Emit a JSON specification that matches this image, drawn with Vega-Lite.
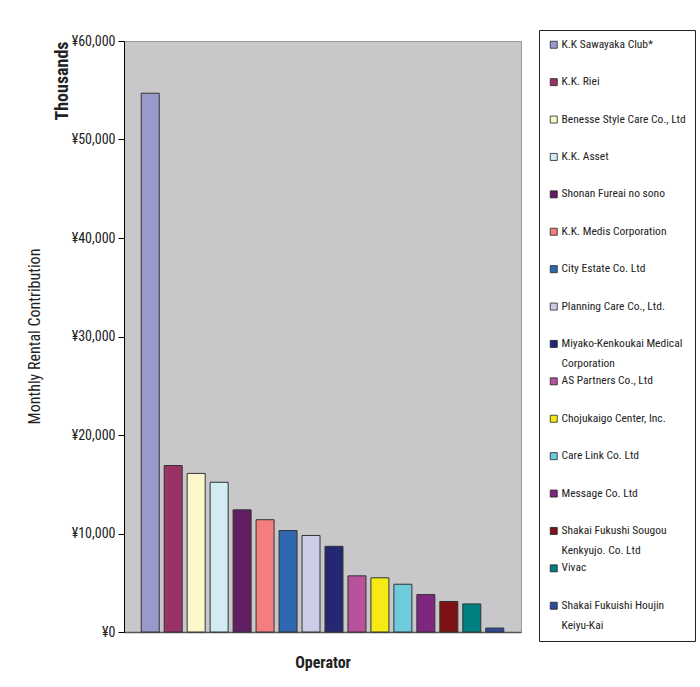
{
  "$schema": "https://vega.github.io/schema/vega-lite/v6.json",
  "width": 397,
  "height": 591,
  "autosize": {"type": "none"},
  "padding": {"left": 124, "top": 41, "right": 179, "bottom": 55},
  "background": "white",
  "title": {
    "text": "Monthly Rental Contribution",
    "orient": "left",
    "anchor": "middle",
    "font": "Roboto Condensed, Liberation Sans, sans-serif",
    "fontSize": 16,
    "fontWeight": "normal",
    "color": "#222222",
    "offset": 10
  },
  "data": {
    "values": [
      {"operator": "K.K Sawayaka Club*", "rent": 54700},
      {"operator": "K.K. Riei", "rent": 16900},
      {"operator": "Benesse Style Care Co., Ltd", "rent": 16100},
      {"operator": "K.K. Asset", "rent": 15200},
      {"operator": "Shonan Fureai no sono", "rent": 12400},
      {"operator": "K.K. Medis Corporation", "rent": 11400},
      {"operator": "City Estate Co. Ltd", "rent": 10300},
      {"operator": "Planning Care Co., Ltd.", "rent": 9800},
      {"operator": "Miyako-Kenkoukai Medical Corporation", "rent": 8700},
      {"operator": "AS Partners Co., Ltd", "rent": 5700},
      {"operator": "Chojukaigo Center, Inc.", "rent": 5500},
      {"operator": "Care Link Co. Ltd", "rent": 4850},
      {"operator": "Message Co. Ltd", "rent": 3800},
      {"operator": "Shakai Fukushi Sougou Kenkyujo. Co. Ltd", "rent": 3100},
      {"operator": "Vivac", "rent": 2850},
      {"operator": "Shakai Fukuishi Houjin Keiyu-Kai", "rent": 400}
    ]
  },
  "mark": {"type": "bar", "stroke": "#333333", "strokeWidth": 1},
  "encoding": {
    "x": {
      "field": "operator",
      "type": "nominal",
      "sort": null,
      "scale": {"paddingInner": 0.216, "paddingOuter": 0.75},
      "axis": {
        "labels": false,
        "ticks": false,
        "domainColor": "#555555",
        "domainWidth": 1.5,
        "title": "Operator",
        "titleFont": "Roboto Condensed, Liberation Sans, sans-serif",
        "titleFontSize": 16,
        "titleFontWeight": "bold",
        "titleColor": "#222222",
        "titlePadding": 22
      }
    },
    "y": {
      "field": "rent",
      "type": "quantitative",
      "scale": {"domain": [0, 60000], "nice": false},
      "axis": {
        "values": [0, 10000, 20000, 30000, 40000, 50000, 60000],
        "labelExpr": "'¥' + format(datum.value, ',')",
        "grid": false,
        "tickSize": 6,
        "tickColor": "#000000",
        "domainColor": "#000000",
        "labelFont": "Roboto Condensed, Liberation Sans, sans-serif",
        "labelFontSize": 14,
        "labelColor": "#222222",
        "labelPadding": 3,
        "title": "Thousands",
        "titleFont": "Roboto Condensed, Liberation Sans, sans-serif",
        "titleFontSize": 18,
        "titleFontWeight": "bold",
        "titleColor": "#222222",
        "titleAnchor": "end",
        "titleX": -62,
        "titleBaseline": "middle"
      }
    },
    "color": {
      "field": "operator",
      "type": "nominal",
      "sort": null,
      "scale": {
        "domain": [
          "K.K Sawayaka Club*", "K.K. Riei", "Benesse Style Care Co., Ltd", "K.K. Asset",
          "Shonan Fureai no sono", "K.K. Medis Corporation", "City Estate Co. Ltd", "Planning Care Co., Ltd.",
          "Miyako-Kenkoukai Medical Corporation", "AS Partners Co., Ltd", "Chojukaigo Center, Inc.", "Care Link Co. Ltd",
          "Message Co. Ltd", "Shakai Fukushi Sougou Kenkyujo. Co. Ltd", "Vivac", "Shakai Fukuishi Houjin Keiyu-Kai"
        ],
        "range": [
          "#9999CC", "#993366", "#FCF8CC", "#D2ECF4",
          "#621E62", "#F47E7E", "#2E66B0", "#CCCCE6",
          "#242872", "#B8529A", "#F5EA14", "#6ECBDC",
          "#7E2680", "#7E1214", "#008080", "#2E4A9E"
        ]
      },
      "legend": {
        "orient": "none",
        "legendX": 415,
        "legendY": -11,
        "title": null,
        "symbolType": "square",
        "symbolSize": 49,
        "symbolStrokeColor": "#222222",
        "symbolStrokeWidth": 0.8,
        "symbolOpacity": 1,
        "labelFont": "Roboto Condensed, Liberation Sans, sans-serif",
        "labelFontSize": 11.5,
        "labelColor": "#222222",
        "labelOffset": 2,
        "labelLimit": 300,
        "labelBaseline": "middle",
        "labelExpr": "datum.label == 'Miyako-Kenkoukai Medical Corporation' ? ['Miyako-Kenkoukai Medical', 'Corporation'] : datum.label == 'Shakai Fukushi Sougou Kenkyujo. Co. Ltd' ? ['Shakai Fukushi Sougou', 'Kenkyujo. Co. Ltd'] : datum.label == 'Shakai Fukuishi Houjin Keiyu-Kai' ? ['Shakai Fukuishi Houjin', 'Keiyu-Kai'] : datum.label",
        "gridAlign": "all",
        "rowPadding": 4.4,
        "padding": 9,
        "strokeColor": "#222222",
        "fillColor": "#FFFFFF"
      }
    }
  },
  "config": {
    "view": {"fill": "#C8C8CA", "stroke": "#9A9A9A"},
    "style": {"guide-label": {"lineHeight": 20}}
  }
}
